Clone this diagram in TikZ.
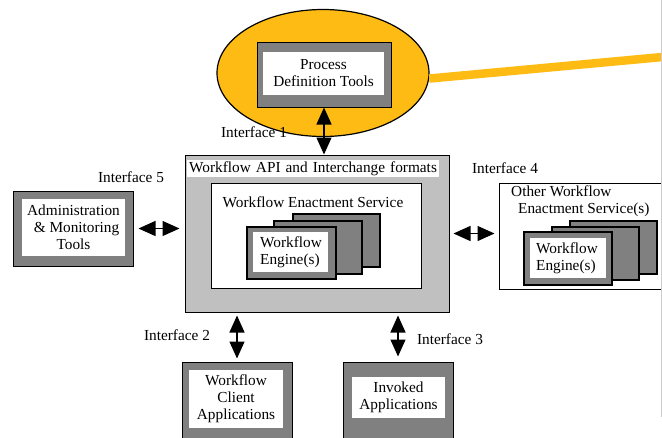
\documentclass[tikz,border=0pt]{standalone}
\usepackage{fontspec}
\setmainfont{Liberation Serif}
\usetikzlibrary{arrows.meta,shapes.geometric}
\definecolor{wforange}{RGB}{253,187,20}
\definecolor{wfdark}{RGB}{128,128,128}
\definecolor{wflight}{RGB}{192,192,192}
\definecolor{wfrule}{RGB}{205,205,205}
\begin{document}
\begin{tikzpicture}[x=1pt,y=-1pt,
  every node/.style={font=\fontsize{15.3}{17}\selectfont, inner sep=0pt},
  size/.style 2 args={minimum width=#1, minimum height=#2},
  toolframe/.style={draw=black, line width=1pt, fill=wfdark},
  toolface/.style={fill=white, align=center},
  enginecard/.style={draw=black, line width=1.3pt, fill=wfdark},
  plainbox/.style={draw=black, line width=1pt, fill=white},
  label/.style={align=center},
  iface/.style={line width=1.3pt, {Triangle[length=17pt,width=15pt]}-{Triangle[length=17pt,width=15pt]}}
]
\useasboundingbox (0,0) rectangle (662,437);
\clip (0,0) rectangle (662,437);

% process definition tools inside the highlighted ellipse
\node[ellipse, draw=black, line width=1.2pt, fill=wforange, size={212}{127}] (ell) at (323,73) {};
\coordinate (pdfar) at (668,56.5);
\draw[wforange, line width=8.5pt] (ell.-3.5) -- (pdfar);
\node[toolframe, size={134}{65}] (pdo) at (324,74.5) {};
\node[toolface, size={121}{43}] (pdi) at (323.5,73.5) {Process\\Definition Tools};

% workflow enactment service
\node[draw=black, line width=1pt, fill=wflight, size={264}{157}] (big) at (317,233.5) {};
\node[fill=white, anchor=west, text width=248pt, inner xsep=2pt, minimum height=17pt, align=left] (api) at (187,168.5) {Workflow API and Interchange formats};
\node[plainbox, size={210}{105}] (wes) at (316,235.5) {};
\node[label] (westxt) at (313,202) {Workflow Enactment Service};
\node[enginecard, size={87}{53}] (e3) at (336.5,240.5) {};
\node[enginecard, size={88}{53}] (e2) at (318,247.5) {};
\node[enginecard, size={89}{52}] (e1) at (291.5,253) {};
\node[fill=white, size={75}{40}] (e1i) at (290.5,252) {};
\node[align=left] (e1t) at (291,252.5) {Workflow\\Engine(s)};

% administration & monitoring tools
\node[toolframe, size={120}{75}] (adm) at (73,228.5) {};
\node[toolface, size={103}{57}] (admi) at (73.5,227.5) {Administration\\\hspace*{6pt}\& Monitoring\\Tools};

% other workflow enactment services
\node[plainbox, size={181}{106}] (oth) at (589.5,236) {};
\node[anchor=north west, align=left] (othtxt) at (511,186) {Other Workflow\\\hspace*{7pt}Enactment Service(s)};
\node[enginecard, size={87}{53}] (o3) at (613.5,247.5) {};
\node[enginecard, size={87}{53}] (o2) at (595.5,253.5) {};
\node[enginecard, size={88}{53}] (o1) at (568,258.5) {};
\node[fill=white, size={76}{40}] (o1i) at (568,258) {};
\node[align=left] (o1t) at (567,258.5) {Workflow\\Engine(s)};

% client and invoked applications
\node[toolframe, size={110}{88}] (cli) at (237,406) {};
\node[toolface, size={94}{58}] (clii) at (236,399) {Workflow\\Client\\Applications};
\node[toolframe, size={110}{88}] (inv) at (398,406) {};
\node[toolface, size={93}{41}] (invi) at (398.5,397.5) {Invoked\\Applications};

% interfaces
\draw[iface] (pdo.south) -- (pdo.south |- big.north);
\draw[iface, shorten <=5pt, shorten >=5pt] (adm.east) -- (adm.east -| big.west);
\draw[iface, shorten <=4pt, shorten >=4pt] (big.east) -- (big.east -| oth.west);
\draw[iface, shorten <=3pt, shorten >=3pt] (cli.north |- big.south) -- (cli.north);
\draw[iface, shorten <=3pt, shorten >=5pt] (inv.north |- big.south) -- (inv.north);

\node[label] (if1) at (254,132) {Interface 1};
\node[label] (if2) at (177,335) {Interface 2};
\node[label] (if3) at (450,339) {Interface 3};
\node[label] (if4) at (505,168) {Interface 4};
\node[label] (if5) at (131,177) {Interface 5};

% page edge rule
\coordinate (ruletop) at (661.5,0);
\coordinate (rulebot) at (661.5,417);
\draw[wfrule, line width=1pt] (ruletop) -- (rulebot);
\end{tikzpicture}
\end{document}
